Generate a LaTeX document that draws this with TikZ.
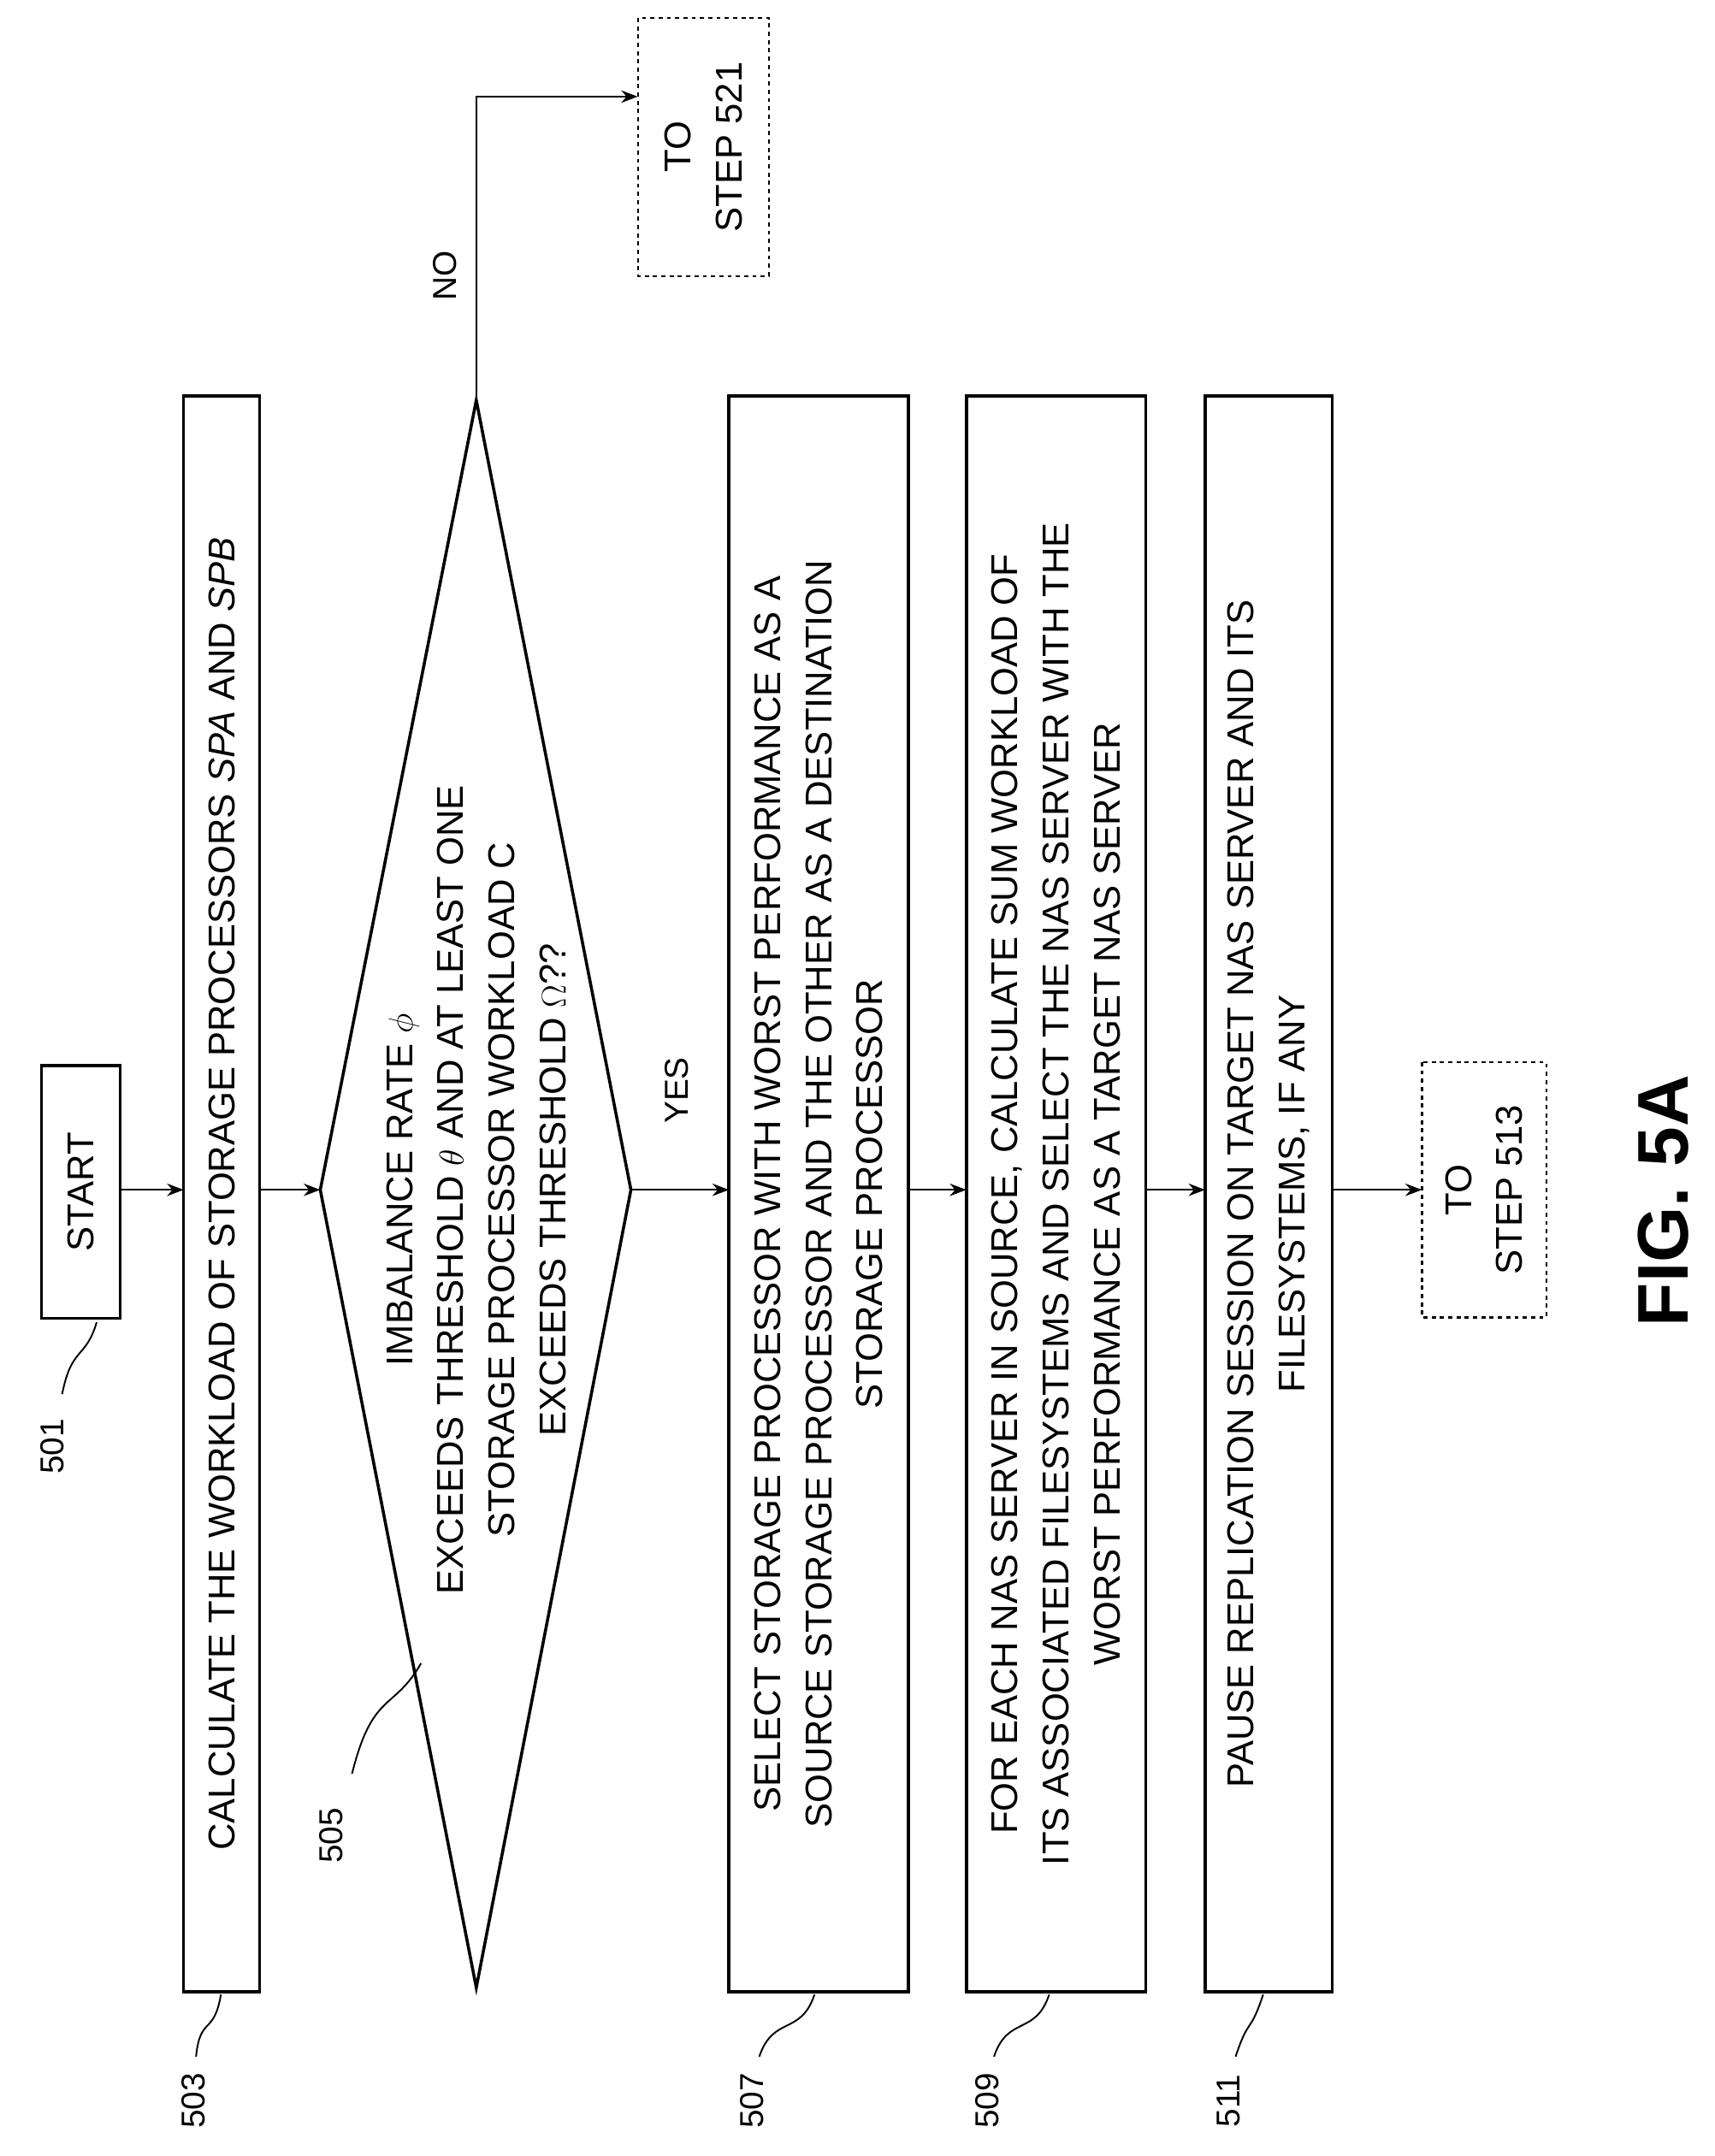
\documentclass[tikz,border=0pt]{standalone}
\usepackage{fontspec}
\setmainfont{Liberation Sans}
\usetikzlibrary{arrows.meta}
\begin{document}
\begin{tikzpicture}[x=1pt,y=-1pt,
  box/.style={draw,line width=2.2pt,inner sep=0pt},
  dbox/.style={draw,dashed,line width=1.4pt,inner sep=0pt},
  txt/.style={rotate=90,align=center,font=\fontsize{27}{37}\selectfont},
  lbl/.style={rotate=90,font=\fontsize{24}{28}\selectfont},
  arr/.style={line width=1.4pt,-{Stealth[length=12pt,width=9pt]}},
  sq/.style={line width=1.2pt}]
\useasboundingbox (0,0) rectangle (1242,1562);
% nodes
\node[box,minimum width=183pt,minimum height=57pt,rotate=90] (start) at (58.5,863.5) {};
\node[txt] at (start) {START};
\node[box,minimum width=1156pt,minimum height=55pt,rotate=90] (b503) at (160.5,865) {};
\node[txt] at (b503) {CALCULATE THE WORKLOAD OF STORAGE PROCESSORS \textit{SPA} AND \textit{SPB}};
\coordinate (dl) at (232,862); \coordinate (dr) at (457,862);
\coordinate (dt) at (345,290); \coordinate (db) at (345,1440);
\draw[line width=2.2pt] (dl)--(dt)--(dr)--(db)--cycle;
\node[txt] (dtext) at (345,862) {IMBALANCE RATE $\phi$\\EXCEEDS THRESHOLD $\theta$ AND AT LEAST ONE\\STORAGE PROCESSOR WORKLOAD C\\EXCEEDS THRESHOLD $\Omega$??};
\node[box,minimum width=1156pt,minimum height=130pt,rotate=90] (b507) at (593,865) {};
\node[txt] at (b507) {SELECT STORAGE PROCESSOR WITH WORST PERFORMANCE AS A\\SOURCE STORAGE PROCESSOR AND THE OTHER AS A DESTINATION\\STORAGE PROCESSOR};
\node[box,minimum width=1156pt,minimum height=130pt,rotate=90] (b509) at (765,865) {};
\node[txt] at (b509) {FOR EACH NAS SERVER IN SOURCE, CALCULATE SUM WORKLOAD OF\\ITS ASSOCIATED FILESYSTEMS AND SELECT THE NAS SERVER WITH THE\\WORST PERFORMANCE AS A TARGET NAS SERVER};
\node[box,minimum width=1156pt,minimum height=92pt,rotate=90] (b511) at (919,865) {};
\node[txt] at (b511) {PAUSE REPLICATION SESSION ON TARGET NAS SERVER AND ITS\\FILESYSTEMS, IF ANY};
\node[dbox,minimum width=185pt,minimum height=90pt,rotate=90] (s513) at (1075,862) {};
\node[txt] at (s513) {TO\\STEP 513};
\node[dbox,minimum width=187pt,minimum height=95pt,rotate=90] (s521) at (509.5,106.5) {};
\node[txt] at (s521) {TO\\STEP 521};
\node[rotate=90,font=\fontsize{52}{60}\bfseries] (fig) at (1205,870) {FIG. 5A};
% connectors
\draw[arr] (87,862) -- (133,862);
\draw[arr] (188,862) -- (dl);
\draw[arr] (dr) -- (528,862);
\draw[arr] (658,862) -- (700,862);
\draw[arr] (830,862) -- (873,862);
\draw[arr] (965,862) -- (1030,862);
\draw[arr] (dt) -- (345,70) -- (462,70);
\node[lbl] (yes) at (490,790) {YES};
\node[lbl] (no) at (322,200) {NO};
% reference labels
\node[lbl] (l501) at (38,1048) {501};
\draw[sq] (70,958) .. controls (62,985) and (52,975) .. (45,1010);
\node[lbl] (l503) at (140,1522) {503};
\draw[sq] (160,1445) .. controls (155,1475) and (145,1460) .. (142,1490);
\node[lbl] (l505) at (240,1330) {505};
\draw[sq] (305,1205) .. controls (285,1240) and (270,1225) .. (255,1285);
\node[lbl] (l507) at (545,1522) {507};
\draw[sq] (590,1445) .. controls (580,1475) and (560,1460) .. (550,1490);
\node[lbl] (l509) at (715,1522) {509};
\draw[sq] (760,1445) .. controls (750,1475) and (730,1460) .. (720,1490);
\node[lbl] (l511) at (890,1522) {511};
\draw[sq] (915,1445) .. controls (905,1475) and (905,1460) .. (895,1490);
\end{tikzpicture}
\end{document}
